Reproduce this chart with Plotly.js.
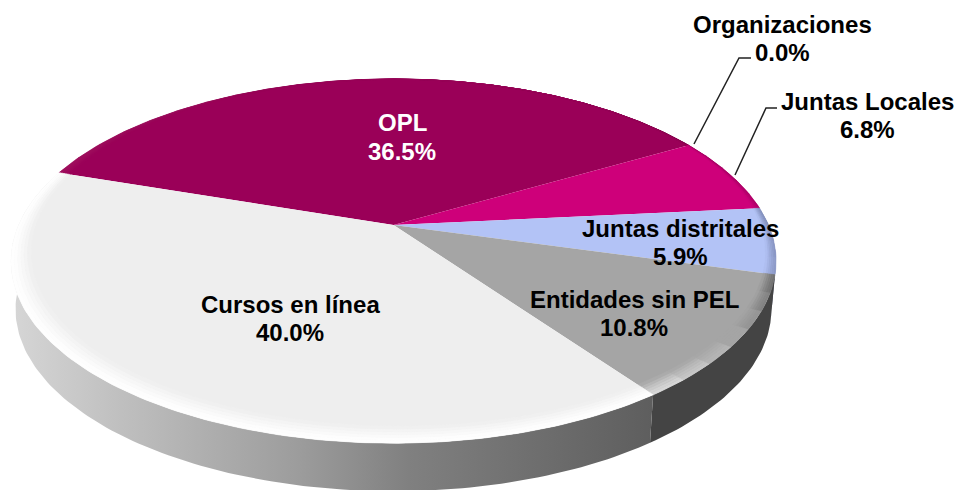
<!DOCTYPE html>
<html>
<head>
<meta charset="utf-8">
<script src="https://cdn.plot.ly/plotly-3.0.1.min.js"></script>
<style>html,body{margin:0;padding:0;background:#fff}#c{width:960px;height:490px}</style>
</head>
<body>
<div id="c"></div>
<script>
// ---- data ----
const categories = ["OPL", "Organizaciones", "Juntas Locales", "Juntas distritales", "Entidades sin PEL", "Cursos en línea"];
const values = [36.5, 0.0, 6.8, 5.9, 10.8, 40.0];
const sliceColors = ["#9A0058", "#9A0058", "#CE007A", "#B3C3F6", "#A5A5A5", "#EEEEEE"];
// bevel colours at the start / end of each slice (clockwise)
const edgeStart = ["#A0105F", "#9A0058", "#9E0060", "#7F8CB8", "#686868", "#FFFFFF"];
const edgeEnd   = ["#7E0048", "#9A0058", "#B00068", "#8E9BC8", "#E2E2E2", "#FFFFFF"];
const rimColors = ["#333333", "#333333", "#555555", "#4A5068", "#444444", null];
// label placement in chart pixels: x centre, y of the first line, y of the second line
const labelX = [402, 782, 867, 680, 634, 290];
const labelY1 = [122, 24, 101, 228, 299, 304];
const labelY2 = [151, 52, 129, 256, 327, 332];
const labelColor = ["#FFFFFF", "#000000", "#000000", "#000000", "#000000", "#000000"];

// ---- pie geometry (perspective projection of a disc) ----
const cx = 393.5, cy = 225, A = 375, B = 175, k = 0.198, depth = 48, startDeg = -71.5, rimScale = 0.988;
const rad = d => d * Math.PI / 180;
function P(deg, r, dy, sx) {
  const u = r * Math.sin(rad(deg)), v = -r * Math.cos(rad(deg)), w = 1 - k * v;
  return [cx + (sx || 1) * A * u / w, cy + B * v / w + (dy || 0)];
}
const bevel = deg => 0.033 - 0.03 * Math.cos(rad(deg)) - 0.012 * Math.sin(rad(deg));
function arc(a0, a1, rf, dy, sx) {
  const n = Math.max(1, Math.ceil(Math.abs(a1 - a0))), pts = [];
  for (let i = 0; i <= n; i++) { const a = a0 + (a1 - a0) * i / n; pts.push(P(a, rf(a), dy, sx)); }
  return pts;
}
function poly(pts, color, extra) {
  return Object.assign({
    type: "scatter", mode: "lines", x: pts.map(p => p[0]), y: pts.map(p => p[1]),
    fill: "toself", fillcolor: color, line: { width: 0, color: color },
    hoverinfo: "skip", showlegend: false
  }, extra || {});
}
function hex(c) { return [1, 3, 5].map(i => parseInt(c.substr(i, 2), 16)); }
function mix(a, b, t) { const x = hex(a), y = hex(b); return "rgb(" + x.map((v, i) => Math.round(v + (y[i] - v) * t)).join(",") + ")"; }

const total = values.reduce((s, v) => s + v, 0);
const bounds = [startDeg];
values.forEach(v => bounds.push(bounds[bounds.length - 1] + v / total * 360));

const rimTraces = [], topTraces = [], bevelTraces = [];
values.forEach((v, i) => {
  if (v <= 0) return;
  const a0 = bounds[i], a1 = bounds[i + 1];
  // rim: only the front half is visible
  const ra0 = Math.max(a0, 85), ra1 = Math.min(a1, 285);
  if (ra1 > ra0) {
    const one = () => 1;
    const pts = arc(ra0, ra1, one, 0, 1).concat(arc(ra1, ra0, one, depth, rimScale));
    pts.push(pts[0]);
    if (rimColors[i]) rimTraces.push(poly(pts, rimColors[i]));
    else rimTraces.push(poly(pts, "#888888", { fillgradient: { type: "horizontal",
      colorscale: [[0, "#D6D6D6"], [0.18, "#BEBEBE"], [0.45, "#9C9C9C"], [0.62, "#808080"], [1, "#5E5E5E"]] } }));
  }
  // top face
  const face = [[cx, cy]].concat(arc(a0, a1, () => 1, 0));
  face.push([cx, cy]);
  topTraces.push(poly(face, sliceColors[i], { name: categories[i] }));
  // bevel rings
  const uniform = edgeStart[i] === edgeEnd[i];
  const segs = uniform ? 1 : Math.ceil((a1 - a0) / 6), rings = 6;
  for (let s = 0; s < segs; s++) {
    const s0 = a0 + (a1 - a0) * s / segs, s1 = a0 + (a1 - a0) * (s + 1) / segs;
    const edge = mix(edgeStart[i], edgeEnd[i], (s + 0.5) / segs);
    const e = "#" + edge.match(/\d+/g).map(n => (+n).toString(16).padStart(2, "0")).join("");
    for (let q = 0; q < rings; q++) {
      const rOut = a => 1 - bevel(a) * q / rings, rIn = a => 1 - bevel(a) * (q + 1) / rings;
      const t = Math.pow((q + 0.5) / rings, 1.4);
      const c = mix(e, sliceColors[i], t);
      const pts = arc(s0, s1, rOut, 0).concat(arc(s1, s0, rIn, 0));
      pts.push(pts[0]);
      bevelTraces.push(poly(pts, c, { line: { width: 0.6, color: c } }));
    }
  }
});

const labelFont = i => ({ family: "Liberation Sans, Arial, sans-serif", size: 24, color: labelColor[i], weight: 700 });
const annotations = [];
categories.forEach((c, i) => {
  annotations.push({ x: labelX[i], y: labelY1[i], xref: "x", yref: "y", showarrow: false, xanchor: "center", yanchor: "middle", text: c, font: labelFont(i) });
  annotations.push({ x: labelX[i], y: labelY2[i], xref: "x", yref: "y", showarrow: false, xanchor: "center", yanchor: "middle", text: values[i].toFixed(1) + "%", font: labelFont(i) });
});
const leaderPaths = ["M694,144 L739,58 L751,58", "M735,175 L766,108 L777,108"];
const shapes = leaderPaths.map(p => ({ type: "path", path: p, xref: "x", yref: "y", line: { color: "#222222", width: 1.5 } }));

Plotly.newPlot("c", rimTraces.concat(topTraces, bevelTraces), {
  width: 960, height: 490, margin: { l: 0, r: 0, t: 0, b: 0 },
  paper_bgcolor: "#fff", plot_bgcolor: "#fff", showlegend: false,
  xaxis: { range: [0, 960], visible: false, fixedrange: true },
  yaxis: { range: [490, 0], visible: false, fixedrange: true },
  annotations: annotations, shapes: shapes, hovermode: false
}, { displayModeBar: false, staticPlot: true });
</script>
</body>
</html>
